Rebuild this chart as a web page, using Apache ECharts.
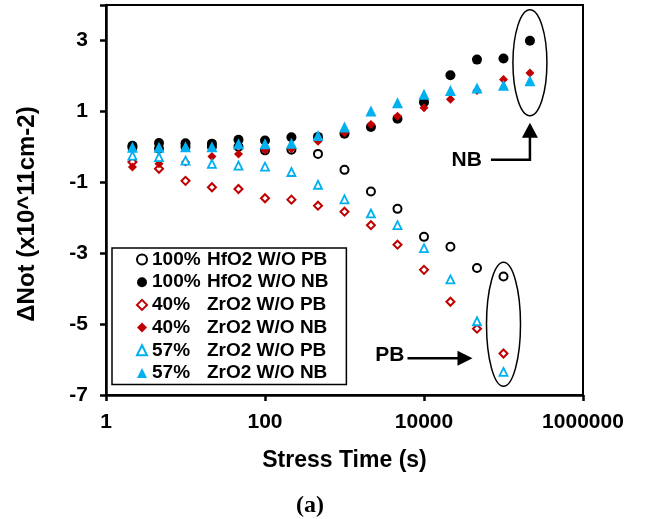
<!DOCTYPE html>
<html>
<head>
<meta charset="utf-8">
<style>
    html, body { margin: 0; padding: 0; background: #fff; }
    #chart { width: 648px; height: 519px; }
</style>
<script src="https://cdn.jsdelivr.net/npm/echarts@6/dist/echarts.min.js"></script>
</head>
<body>
<div id="chart"></div>
<script>
// stress times (s), three points per decade
const stressTimes = [2.15, 4.64, 10, 21.5, 46.4, 100, 215, 464, 1000, 2150, 4640, 10000, 21500, 46400, 100000, 215000];

// ΔNot (x10^11 cm-2)
const hfo2PB = [-0.02, -0.05, 0.0, 0.0, 0.0, -0.1, -0.08, -0.2, -0.65, -1.26, -1.75, -2.54, -2.82, -3.42, -3.66];
const hfo2NB = [0.03, 0.11, 0.1, 0.09, 0.2, 0.18, 0.27, 0.28, 0.37, 0.56, 0.79, 1.26, 2.02, 2.46, 2.49, 2.99];
const zr40PB = [-0.43, -0.62, -0.96, -1.14, -1.19, -1.45, -1.49, -1.66, -1.83, -2.21, -2.76, -3.47, -4.37, -5.13, -5.83];
const zr40NB = [-0.57, -0.48, -0.43, -0.27, -0.2, -0.1, -0.06, 0.16, 0.4, 0.63, 0.86, 1.1, 1.34, 1.59, 1.9, 2.08];
const zr57PB = [-0.25, -0.29, -0.39, -0.48, -0.53, -0.56, -0.71, -1.07, -1.48, -1.88, -2.21, -2.86, -3.74, -4.92, -6.35];
const zr57NB = [-0.01, -0.01, 0.0, 0.0, 0.09, 0.09, 0.1, 0.32, 0.56, 1.01, 1.24, 1.48, 1.59, 1.66, 1.74, 1.86];

const seriesNames = [
    "100% HfO2 W/O PB",
    "100% HfO2 W/O NB",
    "40% ZrO2 W/O PB",
    "40% ZrO2 W/O NB",
    "57% ZrO2 W/O PB",
    "57% ZrO2 W/O NB"
];

const xTicks = [1, 100, 10000, 1000000];
const yTicks = [-7, -5, -3, -1, 1, 3];

const FONT = "'Liberation Sans', Arial, sans-serif";
const RED = "#C00000";
const BLUE = "#00B0F0";

function toPoints(values) {
    return values.map((v, i) => [stressTimes[i], v]);
}

function scatter(name, values, symbol, size, fill, stroke, borderWidth) {
    return {
        name: name,
        type: "scatter",
        data: toPoints(values),
        symbol: symbol,
        symbolSize: size,
        itemStyle: { color: fill, borderColor: stroke, borderWidth: borderWidth, opacity: 1 },
        emphasis: { disabled: true }
    };
}

const chart = echarts.init(document.getElementById("chart"));

chart.setOption({
    animation: false,
    grid: { left: 106, right: 65, top: 5, bottom: 124, show: true, borderColor: "#000", borderWidth: 2 },
    title: {
        text: "(a)",
        left: 305, top: 489,
        textAlign: "center",
        textStyle: { fontFamily: "'Liberation Serif', 'Times New Roman', serif", fontWeight: "bold", fontSize: 24, color: "#000" }
    },
    legend: {
        orient: "vertical",
        left: 112, top: 248,
        padding: [1, 18, 1, 24],
        itemGap: 1.7,
        itemWidth: 10, itemHeight: 10,
        borderColor: "#000", borderWidth: 1.5,
        backgroundColor: "#fff",
        selectedMode: false,
        data: seriesNames,
        formatter: (name) => {
            const cut = name.indexOf(" ");
            return "{p|" + name.slice(0, cut) + "}{n|" + name.slice(cut + 1) + "}";
        },
        textStyle: {
            fontFamily: FONT, fontWeight: "bold", fontSize: 19, color: "#000", lineHeight: 21,
            rich: {
                p: { width: 55, fontFamily: FONT, fontWeight: "bold", fontSize: 19, lineHeight: 21 },
                n: { fontFamily: FONT, fontWeight: "bold", fontSize: 19, lineHeight: 21 }
            }
        }
    },
    xAxis: {
        type: "log",
        logBase: 100,
        min: 1, max: 1000000,
        name: "Stress Time (s)",
        nameLocation: "middle",
        nameGap: 54,
        nameTextStyle: { fontFamily: FONT, fontWeight: "bold", fontSize: 23, color: "#000" },
        axisLine: { onZero: false, lineStyle: { color: "#000", width: 2.5 } },
        axisTick: { length: 6, lineStyle: { color: "#000", width: 2.5 } },
        minorTick: { show: false },
        splitLine: { show: false },
        axisLabel: {
            margin: 17,
            fontFamily: FONT, fontWeight: "bold", fontSize: 21, color: "#000",
            formatter: (v) => {
                const r = Math.round(v);
                return xTicks.includes(r) ? String(r) : "";
            }
        }
    },
    yAxis: {
        type: "value",
        min: -7, max: 4, interval: 2,
        name: "ΔNot (x10^11cm-2)",
        nameLocation: "middle",
        nameGap: 67,
        nameTextStyle: { fontFamily: FONT, fontWeight: "bold", fontSize: 24, color: "#000", padding: [0, 28, 0, 0] },
        axisLine: { onZero: false, lineStyle: { color: "#000", width: 2.5 } },
        axisTick: { length: 6, lineStyle: { color: "#000", width: 2.5 } },
        splitLine: { show: false },
        axisLabel: {
            margin: 18,
            fontFamily: FONT, fontWeight: "bold", fontSize: 21, color: "#000",
            formatter: (v) => (yTicks.includes(v) ? String(v) : "")
        }
    },
    series: [
        scatter(seriesNames[0], hfo2PB, "circle", 8, "#fff", "#000", 2),
        scatter(seriesNames[1], hfo2NB, "circle", 10, "#000", "#000", 0),
        scatter(seriesNames[2], zr40PB, "diamond", 8, "#fff", RED, 2),
        scatter(seriesNames[3], zr40NB, "diamond", 9, RED, RED, 0),
        scatter(seriesNames[4], zr57PB, "triangle", 8, "#fff", BLUE, 1.8),
        scatter(seriesNames[5], zr57NB, "triangle", 11, BLUE, BLUE, 0)
    ]
});

// annotations: ellipses round the last NB and PB points, with arrows and labels
const px = (x, y) => chart.convertToPixel({ gridIndex: 0 }, [x, y]);
const lastNB = [hfo2NB, zr40NB, zr57NB].map((a) => a[a.length - 1]);
const lastPB = [hfo2PB, zr40PB, zr57PB].map((a) => a[a.length - 1]);
const nbC = px(stressTimes[15], (Math.max(...lastNB) + Math.min(...lastNB)) / 2);
const pbC = px(stressTimes[14], (Math.max(...lastPB) + Math.min(...lastPB)) / 2);
nbC[1] += 2;

const lineStyle = { stroke: "#000", lineWidth: 2.5, fill: null };
const labelFont = "bold 21px " + FONT;

chart.setOption({
    graphic: [
        { type: "ellipse", shape: { cx: nbC[0], cy: nbC[1], rx: 17, ry: 53 }, style: { stroke: "#000", lineWidth: 1.5, fill: null } },
        { type: "ellipse", shape: { cx: pbC[0], cy: pbC[1], rx: 17, ry: 62 }, style: { stroke: "#000", lineWidth: 1.5, fill: null } },
        // NB arrow: horizontal then up to the ellipse
        { type: "polyline", shape: { points: [[nbC[0] - 39, nbC[1] + 97], [nbC[0], nbC[1] + 97], [nbC[0], nbC[1] + 74]] }, style: lineStyle },
        { type: "polygon", shape: { points: [[nbC[0] - 8, nbC[1] + 75], [nbC[0] + 8, nbC[1] + 75], [nbC[0], nbC[1] + 60]] }, style: { fill: "#000" } },
        { type: "text", x: nbC[0] - 48, y: nbC[1] + 97, style: { text: "NB", font: labelFont, fill: "#000", align: "right", verticalAlign: "middle" } },
        // PB arrow: horizontal to the ellipse
        { type: "polyline", shape: { points: [[pbC[0] - 96, pbC[1] + 34], [pbC[0] - 45, pbC[1] + 34]] }, style: lineStyle },
        { type: "polygon", shape: { points: [[pbC[0] - 46, pbC[1] + 26.5], [pbC[0] - 46, pbC[1] + 41.5], [pbC[0] - 31, pbC[1] + 34]] }, style: { fill: "#000" } },
        { type: "text", x: pbC[0] - 99, y: pbC[1] + 31, style: { text: "PB", font: labelFont, fill: "#000", align: "right", verticalAlign: "middle" } }
    ]
});
</script>
</body>
</html>
